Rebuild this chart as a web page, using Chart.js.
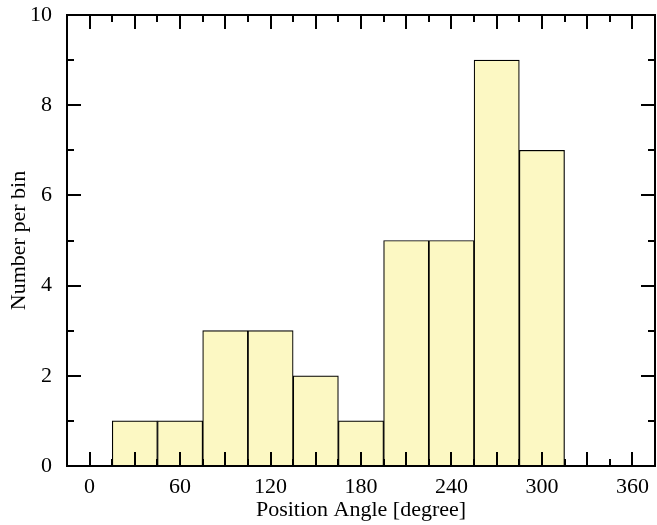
<!DOCTYPE html>
<html>
<head>
<meta charset="utf-8">
<script src="https://cdn.jsdelivr.net/npm/chart.js@4.4.1/dist/chart.umd.min.js"></script>
<style>
  html, body { margin: 0; padding: 0; background: #fff; }
  #wrap { width: 657px; height: 525px; }
</style>
</head>
<body>
<div id="wrap"><canvas id="c" width="657" height="525"></canvas></div>
<script>
// Histogram of position angles, 30-degree bins
const binCenters = [30, 60, 90, 120, 150, 180, 210, 240, 270, 300];
const binCounts  = [1, 1, 3, 3, 2, 1, 5, 5, 9, 7];
const xTickLabels = [0, 60, 120, 180, 240, 300, 360];
const yTickLabels = [0, 2, 4, 6, 8, 10];

const serif = '"Liberation Serif", "DejaVu Serif", serif';

// Inward ticks on all four sides plus a closed frame
const frameTicks = {
  id: 'frameTicks',
  afterDraw(chart) {
    const { ctx, chartArea: a, scales: { x, y } } = chart;
    ctx.save();
    ctx.strokeStyle = '#000';
    ctx.lineWidth = 2;
    ctx.lineCap = 'butt';
    ctx.beginPath();
    for (let v = 0; v <= 360; v += 15) {
      const px = Math.round(x.getPixelForValue(v));
      const len = (v % 30 === 0) ? 14 : 7;
      ctx.moveTo(px, a.bottom); ctx.lineTo(px, a.bottom - len);
      ctx.moveTo(px, a.top); ctx.lineTo(px, a.top + len);
    }
    for (let v = 0; v <= 10; v += 1) {
      const py = Math.round(y.getPixelForValue(v));
      const len = (v % 2 === 0) ? 14 : 7;
      ctx.moveTo(a.left, py); ctx.lineTo(a.left + len, py);
      ctx.moveTo(a.right, py); ctx.lineTo(a.right - len, py);
    }
    ctx.stroke();
    ctx.strokeRect(a.left, a.top, a.right - a.left, a.bottom - a.top);
    ctx.restore();
  }
};

new Chart(document.getElementById('c'), {
  type: 'bar',
  data: {
    datasets: [{
      data: binCenters.map((c, i) => ({ x: c, y: binCounts[i] })),
      backgroundColor: 'rgb(252,248,195)',
      borderColor: '#000',
      borderWidth: 1.2,
      borderSkipped: false,
      barPercentage: 1,
      categoryPercentage: 1
    }]
  },
  options: {
    responsive: false,
    animation: false,
    layout: { padding: { left: 0, right: 2, top: 15, bottom: 0 } },
    plugins: { legend: { display: false }, tooltip: { enabled: false } },
    scales: {
      x: {
        type: 'linear',
        min: -15,
        max: 375,
        offset: false,
        grid: { display: false },
        border: { display: false },
        afterBuildTicks: s => { s.ticks = xTickLabels.map(v => ({ value: v })); },
        afterFit: s => { s.height = 59; s.paddingLeft = 0; s.paddingRight = 0; },
        ticks: { color: '#000', font: { family: serif, size: 22 }, padding: 0, maxRotation: 0, autoSkip: false },
        title: { display: true, text: 'Position Angle [degree]', color: '#000', font: { family: serif, size: 22 }, padding: { top: 0, bottom: 2 } }
      },
      y: {
        min: 0,
        max: 10,
        grid: { display: false },
        border: { display: false },
        afterBuildTicks: s => { s.ticks = yTickLabels.map(v => ({ value: v })); },
        afterFit: s => { s.width = 67; s.paddingTop = 0; s.paddingBottom = 0; },
        ticks: { color: '#000', font: { family: serif, size: 22 }, padding: 7 },
        title: { display: true, text: 'Number per bin', color: '#000', font: { family: serif, size: 22 }, padding: { top: 6, bottom: 0 } }
      }
    }
  },
  plugins: [frameTicks]
});
</script>
</body>
</html>
